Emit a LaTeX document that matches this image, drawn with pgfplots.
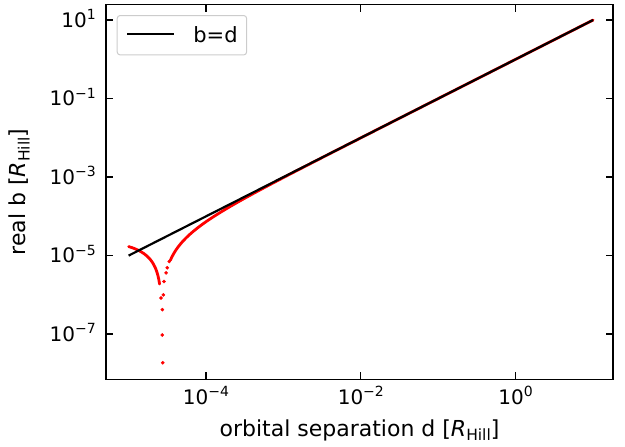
\documentclass[border=0pt]{standalone}
\usepackage{fontspec}
\setmainfont{DejaVu Sans}
\usepackage{pgfplots}
\pgfplotsset{compat=1.18}
\newcommand{\tenpow}[1]{10\raisebox{0.38em}{\fontsize{14bp}{14bp}\selectfont #1}}
\newcommand{\Rhill}{\textit{R}\raisebox{-0.17em}{\fontsize{15.5bp}{15.5bp}\selectfont Hill}}
\begin{document}
\begin{tikzpicture}
\begin{loglogaxis}[
  scale only axis, width=507bp, height=374.6bp,
  xmin=5.10e-6, xmax=18.1, ymin=7.06e-9, ymax=24.6,
  xtick={1e-4,1e-2,1},
  xticklabels={\tenpow{−4},\tenpow{−2},\tenpow{0}},
  ytick={1e-7,1e-5,1e-3,1e-1,1e1},
  yticklabels={\tenpow{−7},\tenpow{−5},\tenpow{−3},\tenpow{−1},\tenpow{1}},
  minor tick num=0, xminorticks=false, yminorticks=false,
  tick align=inside, major tick length=7bp,
  every tick/.style={black, line width=1.25bp},
  axis line style={line width=1.25bp},
  ticklabel style={font=\fontsize{20bp}{24bp}\selectfont, inner sep=0pt},
  xticklabel style={yshift=-7bp},
  yticklabel style={anchor=base east, xshift=-10bp, yshift=-7.3bp},
  xlabel={orbital separation d [\Rhill]},
  ylabel={real b [\Rhill]},
  label style={font=\fontsize{22bp}{26bp}\selectfont, inner sep=0pt},
  xlabel style={at={(axis description cs:0.5,-0.1087)}, anchor=north},
  ylabel style={at={(axis description cs:-0.1913,0.5)}, anchor=north, rotate=0},
  legend style={at={(axis description cs:0,1)}, anchor=north west,
    xshift=10.7bp, yshift=-10.3bp, draw=black!20, line width=1bp,
    rounded corners=3bp, fill=white, fill opacity=0.8, text opacity=1,
    inner xsep=9bp, inner ysep=11bp, font=\fontsize{21bp}{25bp}\selectfont,
    nodes={inner sep=0pt}, column sep=18bp},
  legend image code/.code={\draw[#1] (0bp,1bp) -- (47bp,1bp);},
]
% red: real b, left branch
\addplot[red, line width=2.8bp, line cap=round, line join=round, forget plot] coordinates {
(1.000e-5,1.700e-5) (1.096e-5,1.604e-5) (1.202e-5,1.498e-5) (1.318e-5,1.382e-5)
(1.445e-5,1.255e-5) (1.585e-5,1.115e-5) (1.738e-5,9.62e-6) (1.905e-5,7.95e-6)
(1.995e-5,7.05e-6) (2.089e-5,6.11e-6) (2.188e-5,5.12e-6) (2.239e-5,4.61e-6)
(2.291e-5,4.09e-6) (2.344e-5,3.56e-6) (2.399e-5,3.01e-6) (2.455e-5,2.45e-6)
(2.512e-5,1.88e-6)
};
% red: isolated points near the dip and start of right branch
\addplot[only marks, mark=*, mark size=1.6bp, mark options={draw=red, fill=red}, forget plot] coordinates {
(2.624e-5,8.3e-7) (2.805e-5,1.0e-6) (2.723e-5,4.2e-7) (2.723e-5,9.5e-8) (2.761e-5,1.86e-8)
(2.864e-5,2.19e-6) (3.041e-5,3.63e-6) (3.162e-5,4.90e-6) (3.357e-5,7.08e-6)
};
% red: right branch
\addplot[red, line width=2.8bp, line cap=round, line join=round, forget plot] coordinates {
(3.467e-5,7.67e-6) (3.631e-5,9.31e-6) (3.802e-5,1.102e-5) (3.981e-5,1.281e-5)
(4.169e-5,1.469e-5) (4.365e-5,1.665e-5) (4.571e-5,1.871e-5) (4.786e-5,2.086e-5)
(5.012e-5,2.312e-5) (5.495e-5,2.795e-5) (6.026e-5,3.326e-5) (6.761e-5,4.061e-5)
(7.762e-5,5.062e-5) (8.913e-5,6.213e-5) (1.000e-4,7.30e-5) (1.259e-4,9.89e-5)
(1.585e-4,1.315e-4) (1.995e-4,1.725e-4) (2.512e-4,2.242e-4) (3.162e-4,2.892e-4)
(3.981e-4,3.711e-4) (5.012e-4,4.742e-4) (6.310e-4,6.040e-4) (7.943e-4,7.673e-4)
(1.000e-3,9.73e-4) (1.585e-3,1.558e-3) (2.512e-3,2.485e-3) (3.981e-3,3.954e-3)
(1.000e-2,9.973e-3) (3.162e-2,3.159e-2) (1.000e-1,9.997e-2) (1.0,1.0) (10.0,10.0)
};
% b = d
\addplot[black, line width=2.2bp] coordinates {(1e-5,1e-5) (10,10)};
\addlegendentry{b=d}
\end{loglogaxis}
\pgfresetboundingbox
\useasboundingbox (-106bp,-67.7bp) rectangle (519bp,379.3bp);
\end{tikzpicture}
\end{document}
